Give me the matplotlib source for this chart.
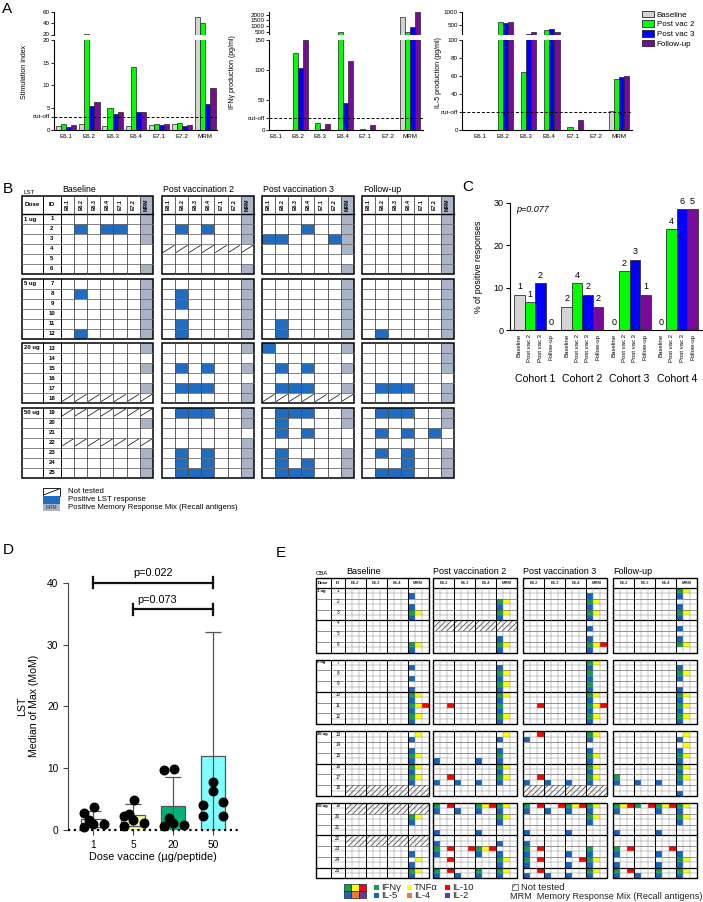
import numpy as np
import matplotlib
matplotlib.use("Agg")
import matplotlib.pyplot as plt
from matplotlib.patches import Rectangle, Patch

plt.rcParams['font.family'] = ['Liberation Sans', 'DejaVu Sans']
plt.rcParams['hatch.linewidth'] = 0.5

# ---------------------------------------------------------------- data
series = ["Baseline", "Post vac 2", "Post vac 3", "Follow-up"]
categories_A = ["E6.1", "E6.2", "E6.3", "E6.4", "E7.1", "E7.2", "MRM"]

si_baseline = [0.9, 1.33, 0.8, 0.96, 1.04, 1.26, 50.9]
si_postvac2 = [1.26, 21.0, 5.0, 13.9, 1.26, 1.48, 41.1]
si_postvac3 = [0.74, 5.4, 3.6, 4.1, 1.04, 0.9, 5.8]
si_followup = [1.04, 6.15, 3.9, 4.1, 1.26, 1.04, 9.26]
si_cutoff = 3.0

ifn_baseline = [0, 0, 0, 0, 0, 0, 1770]
ifn_postvac2 = [0, 129, 11, 460, 1, 0, 474]
ifn_postvac3 = [0, 103, 1.7, 45.5, 0, 0, 888]
ifn_followup = [0, 150, 10, 115.5, 7.8, 0, 2210]
ifn_cutoff = 20

il5_baseline = [0, 0, 0, 0, 0, 0, 20.7]
il5_postvac2 = [0, 599, 64, 271, 3, 0, 56.3]
il5_postvac3 = [0, 570, 120, 312, 0, 0, 58.9]
il5_followup = [0, 599, 202, 214, 11, 0, 59.6]
il5_cutoff = 20

# Panel B (LST)
lst_antigens = ["E6.1", "E6.2", "E6.3", "E6.4", "E7.1", "E7.2", "MRM"]
lst_dose_groups = ["1 ug", "5 ug", "20 ug", "50 ug"]
lst_group_sizes = [6, 6, 6, 7]
lst_titles = ["Baseline", "Post vaccination 2", "Post vaccination 3", "Follow-up"]

lst_baseline_pos = {2: ["E6.2", "E6.4", "E7.1"], 8: ["E6.2"], 12: ["E6.2"]}
lst_baseline_mrm = [1, 2, 3, 6, 7, 8, 9, 10, 11, 12, 13, 15, 17, 20, 23, 24, 25]
lst_baseline_nt = [18, 19, 22]

lst_postvac2_pos = {2: ["E6.2", "E6.4"], 8: ["E6.2"], 9: ["E6.2"], 11: ["E6.2"], 12: ["E6.2"],
                    15: ["E6.2", "E6.4"], 17: ["E6.2", "E6.3", "E6.4"], 19: ["E6.2", "E6.3", "E6.4"],
                    23: ["E6.2", "E6.4"], 24: ["E6.2", "E6.4"], 25: ["E6.2", "E6.3", "E6.4"]}
lst_postvac2_mrm = [1, 2, 3, 6, 7, 8, 9, 10, 11, 12, 13, 15, 17, 18, 19, 20, 22, 23, 24, 25]
lst_postvac2_nt = [4]

lst_postvac3_pos = {2: ["E6.4"], 3: ["E6.1", "E6.2", "E7.2"], 11: ["E6.2"], 12: ["E6.2"],
                    13: ["E6.1"], 15: ["E6.2", "E6.4"], 17: ["E6.2", "E6.3", "E6.4"],
                    19: ["E6.2", "E6.3", "E6.4"], 20: ["E6.2"], 21: ["E6.2", "E6.4"], 23: ["E6.2"],
                    24: ["E6.2", "E6.4"], 25: ["E6.2", "E6.3", "E6.4"]}
lst_postvac3_mrm = [1, 2, 3, 4, 6, 7, 8, 9, 10, 11, 12, 13, 15, 17, 19, 20, 23, 24, 25]
lst_postvac3_nt = [18]

lst_followup_pos = {12: ["E6.2"], 17: ["E6.2", "E6.3", "E6.4"], 19: ["E6.2", "E6.3", "E6.4"],
                    21: ["E6.2", "E6.4", "E7.2"], 23: ["E6.2", "E6.4"], 24: ["E6.4"],
                    25: ["E6.2", "E6.3", "E6.4"]}
lst_followup_mrm = [1, 2, 3, 4, 5, 6, 7, 8, 9, 10, 11, 12, 13, 14, 15, 17, 18, 19, 20, 23, 24, 25]
lst_followup_nt = []

# Panel C
c_cohorts = ["Cohort 1", "Cohort 2", "Cohort 3", "Cohort 4"]
c_pct_baseline = [8.3, 5.5, 0, 0]
c_pct_postvac2 = [6.5, 11.0, 13.8, 23.8]
c_pct_postvac3 = [11.0, 8.3, 16.6, 28.5]
c_pct_followup = [0, 5.5, 8.3, 28.5]
c_n_baseline = [1, 2, 0, 0]
c_n_postvac2 = [1, 4, 2, 4]
c_n_postvac3 = [2, 2, 3, 6]
c_n_followup = [0, 2, 1, 5]
c_pvalue = "p=0.077"

# Panel D
d_doses = ["1", "5", "20", "50"]
d_median = [1.8, 2.4, 3.95, 11.9]
d_sd = [1.35, 1.75, 4.55, 20.1]
d_points_1 = [2.7, 3.8, 1.6, 0.5, 1.0, 0.9]
d_points_5 = [2.2, 4.9, 2.6, 0.6, 1.6, 1.1]
d_points_20 = [9.7, 9.8, 1.9, 0.6, 1.1, 0.8]
d_points_50 = [7.8, 6.3, 4.0, 2.2, 4.6, 2.3]
d_p_tests = [("p=0.022", 0, 3), ("p=0.073", 1, 3)]

# Panel E (CBA): per patient, cells for E6.2 E6.3 E6.4 MRM
# g=IFNg y=TNFa r=IL-10 (top) ; b=IL-5 o=IL-4 p=IL-2 (bottom)
cba_groups = ["E6.2", "E6.3", "E6.4", "MRM"]
cba_baseline = {1: "- - - b", 2: "- - - b", 3: "- - - gyb", 6: "- - - gyb",
                7: "- - - b", 8: "- - - b", 9: "- - - b", 10: "- - - gyb", 11: "- - - gyrb", 12: "- - - gyb",
                13: "- - - yb", 14: "- - - b", 15: "- - - gyb", 16: "- - - gyb", 17: "- - - gyb",
                20: "- - - gyb", 23: "- - - b", 24: "- - - yb", 25: "- - - gyb"}
cba_baseline_nt = [18, 19, 22]
cba_postvac2 = {2: "- - - gyb", 3: "- - - gyb", 5: "- - - b", 6: "- - - gyb",
                7: "- - - b", 8: "- - - gyb", 9: "- - - gyb", 10: "- - - gyb", 11: "r - - gb", 12: "- - - gyb",
                13: "- - - yb", 14: "- - - b", 15: "b - b gb", 16: "- - - gyb", 17: "rb b b gyb",
                19: "grb b gyrb gyb", 20: "- - - gyb", 21: "b - b -", 22: "b - - b",
                23: "grb r gyrb b", 24: "r - - gyb", 25: "grb b gb gyb"}
cba_postvac2_nt = [4]
cba_postvac3 = {1: "- - - b", 2: "- - - gyb", 3: "- - - gyb", 4: "- - - b", 5: "- - - b", 6: "- - - gyrb",
                7: "- - - gyb", 8: "- - - gb", 9: "- - - gb", 10: "- - - gyb", 11: "r - - gyrb", 12: "- - - gyb",
                13: "rb - - gyb", 14: "- - - b", 15: "- - - gyb", 16: "- - - gyb", 17: "rb b b gyb",
                19: "grb rb gyrb gyb", 20: "- - - gyb", 21: "b - b -", 22: "b - - -",
                23: "grb - b gb", 24: "grb - rb gyb", 25: "rb b b gyb"}
cba_postvac3_nt = [18]
cba_followup = {1: "- - - gyb", 2: "- - - b", 3: "- - - gyb", 4: "- - - b", 5: "- - - b", 6: "- - - gy",
                7: "- - - b", 8: "- - - gyb", 9: "- - - b", 10: "- - - gyb", 11: "- - - gyb", 12: "- - - gyb",
                13: "- - - yb", 14: "- - - yb", 15: "- - - gyb", 16: "- - - gyb", 17: "gb b b gyb", 18: "- - - b",
                19: "gyrb gr gyrb gyb", 20: "- - - gyb", 21: "b - b -", 23: "grb - rb b",
                24: "b - b gyb", 25: "grb b gb gyb"}
cba_followup_nt = []
cyto_names = {"g": "IFNγ", "y": "TNFα", "r": "IL-10", "b": "IL-5", "o": "IL-4", "p": "IL-2"}

# ---------------------------------------------------------------- style
W, H = 703, 902
series_colors = ["#d4d4d4", "#00ff00", "#0000ff", "#7a0a99"]
blue_lst = "#1f6cc0"
mrm_gray = "#a9b4c7"
cyto_colors = {"g": "#10a050", "y": "#ffff00", "r": "#ff0000", "b": "#1565c0", "o": "#f07830", "p": "#7030a0"}
cyto_pos = {"g": (0, 0), "y": (0, 1), "r": (0, 2), "b": (1, 0), "o": (1, 1), "p": (1, 2)}

fig = plt.figure(figsize=(W / 100, H / 100), dpi=100)


def fr(x0, y0, x1, y1):
    return [x0 / W, 1 - y1 / H, (x1 - x0) / W, (y1 - y0) / H]


ov = fig.add_axes([0, 0, 1, 1])
ov.set_xlim(0, W)
ov.set_ylim(H, 0)
ov.axis('off')

for lab, (x, y) in {"A": (2, 2), "B": (3, 182), "C": (462, 180), "D": (3, 543), "E": (276, 546)}.items():
    ov.text(x, y, lab, fontsize=11, ha='left', va='top')

# ---------------------------------------------------------------- Panel A
bw = 0.22


def panel_a(xr, data, low_lim, up_lim, low_ticks, low_labels, up_ticks, cutoff, xlim, ylabel, ylabel_x):
    x0, x1 = xr
    axu = fig.add_axes(fr(x0, 12, x1, 34.5))
    axl = fig.add_axes(fr(x0, 40, x1, 130))
    xs = np.arange(len(categories_A))
    for ax in (axu, axl):
        for j, vals in enumerate(data):
            ax.bar(xs + (j - 1.5) * bw, vals, bw, color=series_colors[j], edgecolor='#222222',
                   linewidth=0.5, zorder=2)
        ax.set_xlim(*xlim)
        for s in ('top', 'right'):
            ax.spines[s].set_visible(False)
        ax.spines['left'].set_linewidth(0.8)
        ax.spines['bottom'].set_linewidth(0.8)
        ax.tick_params(labelsize=4.5, length=2, width=0.6, pad=1)
        ax.patch.set_alpha(0)
    axu.set_ylim(*up_lim)
    axu.spines['bottom'].set_visible(False)
    axu.set_xticks([])
    axu.set_yticks(up_ticks)
    axl.set_ylim(*low_lim)
    axl.set_yticks(low_ticks)
    axl.set_yticklabels(low_labels)
    axl.set_xticks(xs)
    axl.set_xticklabels(categories_A)
    axl.tick_params(axis='x', length=0, pad=3)
    axl.axhline(cutoff, ls=(0, (3, 2)), color='k', lw=0.7, zorder=3)
    fig.text(ylabel_x / W, 1 - 72 / H, ylabel, rotation=90, fontsize=5, ha='center', va='center')


panel_a((54, 217), [si_baseline, si_postvac2, si_postvac3, si_followup], (0, 20), (20, 60),
        [0, si_cutoff, 5, 10, 15, 20], ['0', 'cut-off', '5', '10', '15', '20'], [20, 40, 60],
        si_cutoff, (-0.52, 6.5), "Stimulation index", 25)
panel_a((269, 423), [ifn_baseline, ifn_postvac2, ifn_postvac3, ifn_followup], (0, 150), (250, 2240),
        [0, ifn_cutoff, 50, 100, 150], ['0', 'cut-off', '50', '100', '150'], [500, 1000, 1500, 2000],
        ifn_cutoff, (-0.29, 6.58), "IFNγ production (pg/ml)", 233)
panel_a((462, 632), [il5_baseline, il5_postvac2, il5_postvac3, il5_followup], (0, 100), (100, 1020),
        [0, il5_cutoff, 40, 60, 80, 100], ['0', 'cut-off', '40', '60', '80', '100'], [500, 1000],
        il5_cutoff, (-0.75, 6.55), "IL-5 production (pg/ml)", 438)

handles = [Patch(facecolor=c, edgecolor='#222222', linewidth=0.6) for c in series_colors]
fig.legend(handles, series, loc='upper left', bbox_to_anchor=(640 / W, 1 - 9 / H), frameon=False,
           fontsize=5.8, handlelength=1.5, handleheight=0.9, labelspacing=0.2, handletextpad=0.35,
           borderpad=0.2, borderaxespad=0)

# ---------------------------------------------------------------- Panel B
b_header_top, b_header_h, b_rh = 196, 18, 10
b_group_tops = [214, 278.5, 343, 407.5]
b_x_dose, b_x_id = 22, 43
b_cw = 13.1
b_table_x = [61, 162, 262, 362]


def draw_lst(x_data, title, pos, mrm, nt, with_labels):
    ncol = len(lst_antigens)
    x_end = x_data + ncol * b_cw
    x_left = b_x_dose if with_labels else x_data
    ov.text(x_data + 1, b_header_top - 1.5, title, fontsize=6.3, ha='left', va='bottom')
    for j, ag in enumerate(lst_antigens):
        if ag == 'MRM':
            ov.add_patch(Rectangle((x_data + j * b_cw, b_header_top), b_cw, b_header_h, fc=mrm_gray, ec='none'))
        ov.text(x_data + (j + 0.5) * b_cw, b_header_top + b_header_h / 2, ag, rotation=90, fontsize=3.8,
                fontweight='bold', ha='center', va='center')
    if with_labels:
        ov.text((b_x_dose + b_x_id) / 2, b_header_top + b_header_h / 2, 'Dose', fontsize=4.5,
                fontweight='bold', ha='center', va='center')
        ov.text((b_x_id + x_data) / 2, b_header_top + b_header_h / 2, 'ID', fontsize=4.5,
                fontweight='bold', ha='center', va='center')
    pid = 0
    for gi, n in enumerate(lst_group_sizes):
        top = b_group_tops[gi]
        bottom = top + n * b_rh
        for ri in range(n):
            pid += 1
            y = top + ri * b_rh
            for j, ag in enumerate(lst_antigens):
                x = x_data + j * b_cw
                if pid in nt:
                    ov.plot([x + 1, x + b_cw - 1], [y + b_rh - 1.5, y + 1.5], color='k', lw=0.5)
                elif ag == 'MRM' and pid in mrm:
                    ov.add_patch(Rectangle((x, y), b_cw, b_rh, fc=mrm_gray, ec='none'))
                elif ag in pos.get(pid, []):
                    ov.add_patch(Rectangle((x, y), b_cw, b_rh, fc=blue_lst, ec='none'))
            if with_labels:
                ov.text((b_x_id + x_data) / 2, y + b_rh / 2, str(pid), fontsize=4.3, fontweight='bold',
                        ha='center', va='center')
                if ri == 0:
                    ov.text(b_x_dose + 2, y + b_rh / 2, lst_dose_groups[gi], fontsize=4.3, fontweight='bold',
                            ha='left', va='center')
        box_top = b_header_top if gi == 0 else top
        for k in range(1, n):
            ov.plot([x_left, x_end], [top + k * b_rh] * 2, color='#6f6f6f', lw=0.6)
        if gi == 0:
            ov.plot([x_left, x_end], [top, top], color='k', lw=1.0)
        for j in range(1, ncol):
            ov.plot([x_data + j * b_cw] * 2, [box_top, bottom], color='#4a4a4a', lw=0.6)
        if with_labels:
            for xv in (b_x_id, x_data):
                ov.plot([xv, xv], [box_top, bottom], color='k', lw=0.7)
        ov.add_patch(Rectangle((x_left, box_top), x_end - x_left, bottom - box_top, fc='none', ec='k', lw=1.1))


ov.text(b_x_dose + 1, b_header_top - 1.5, 'LST', fontsize=4.5, ha='left', va='bottom')
lst_sets = [(lst_baseline_pos, lst_baseline_mrm, lst_baseline_nt),
            (lst_postvac2_pos, lst_postvac2_mrm, lst_postvac2_nt),
            (lst_postvac3_pos, lst_postvac3_mrm, lst_postvac3_nt),
            (lst_followup_pos, lst_followup_mrm, lst_followup_nt)]
for t, (pos, mrm, nt) in enumerate(lst_sets):
    draw_lst(b_table_x[t], lst_titles[t], pos, mrm, nt, t == 0)

# legend B
lx, lw_, ly, lh = 43, 17, 488, 7.8
ov.add_patch(Rectangle((lx, ly), lw_, lh, fc='white', ec='k', lw=0.6))
ov.plot([lx + 1, lx + lw_ - 1], [ly + lh - 1, ly + 1], color='k', lw=0.6)
ov.add_patch(Rectangle((lx, ly + lh), lw_, lh, fc=blue_lst, ec='none'))
ov.add_patch(Rectangle((lx, ly + 2 * lh), lw_, lh, fc=mrm_gray, ec='none'))
ov.text(lx + lw_ / 2, ly + 2.5 * lh, 'MRM', fontsize=3.5, ha='center', va='center', color='#333333')
for k, t in enumerate(["Not tested", "Positive LST response", "Positive Memory Response Mix (Recall antigens)"]):
    ov.text(68, ly + (k + 0.5) * lh, t, fontsize=5.6, ha='left', va='center')

# ---------------------------------------------------------------- Panel C
axc = fig.add_axes(fr(510, 202.7, 702, 330))
c_all = [c_pct_baseline, c_pct_postvac2, c_pct_postvac3, c_pct_followup]
c_ns = [c_n_baseline, c_n_postvac2, c_n_postvac3, c_n_followup]
xt, xl = [], []
for g in range(len(c_cohorts)):
    for j in range(4):
        xpos = g * 4.5 + j + 0.5
        v = c_all[j][g]
        axc.bar(xpos, v, 1.0, color=series_colors[j], edgecolor='#333333', linewidth=0.6, zorder=2)
        axc.text(xpos, v + 0.8, str(c_ns[j][g]), fontsize=6.5, ha='center', va='bottom')
        xt.append(xpos)
        xl.append(series[j])
    axc.text(g * 4.5 + 2.0, -0.385, c_cohorts[g], transform=axc.get_xaxis_transform(), fontsize=7.6,
             ha='center', va='center')
axc.set_xlim(-0.4, 17.9)
axc.set_ylim(0, 30)
axc.set_yticks([0, 10, 20, 30])
axc.set_xticks(xt)
axc.set_xticklabels(xl, rotation=90, fontsize=4.3)
axc.tick_params(axis='x', length=0, pad=3)
axc.tick_params(axis='y', labelsize=6.5, length=3, width=0.8, pad=1.5)
for s in ('top', 'right'):
    axc.spines[s].set_visible(False)
axc.set_ylabel("% of positive responses", fontsize=6.3)
axc.yaxis.set_label_coords(-0.14, 0.5)
axc.text(0.03, 0.98, c_pvalue, transform=axc.transAxes, fontsize=6.5, style='italic', ha='left', va='top')

# ---------------------------------------------------------------- Panel D
axd = fig.add_axes(fr(68, 582.7, 238, 830))
xs = np.arange(len(d_doses))
d_colors = ["#ffffff", "#ffff99", "#00b377", "#80ffff"]
axd.bar(xs, d_median, 0.62, color=d_colors, edgecolor='#555555', linewidth=0.9, zorder=2)
axd.errorbar(xs, d_median, yerr=d_sd, fmt='none', ecolor='#555555', elinewidth=0.9, capsize=6,
             capthick=0.9, zorder=2)
d_offsets = [-0.22, 0.02, -0.1, -0.22, 0.0, 0.27]
for i, pts in enumerate([d_points_1, d_points_5, d_points_20, d_points_50]):
    offs = d_offsets if i < 3 else [0.0, 0.0, -0.25, -0.25, 0.25, 0.25]
    axd.scatter(xs[i] + np.array(offs), pts, s=38, color='k', zorder=4, clip_on=False)
axd.set_ylim(0, 40)
axd.set_xlim(-0.625, 3.625)
axd.set_yticks([0, 10, 20, 30, 40])
axd.set_xticks(xs)
axd.set_xticklabels(d_doses)
axd.axhline(0, ls=(0, (1, 1.6)), color='k', lw=1.6, zorder=5, clip_on=False)
axd.spines['bottom'].set_visible(False)
for s in ('top', 'right'):
    axd.spines[s].set_visible(False)
axd.spines['left'].set_color('#444444')
axd.tick_params(labelsize=7.3, length=3.5, width=0.8, color='#444444')
axd.set_xlabel("Dose vaccine (µg/peptide)", fontsize=7.8, labelpad=2)
axd.set_ylabel("LST\nMedian of Max (MoM)", fontsize=7.6, labelpad=6)
ys = [40.0, 35.7]
for (lab, a, b), yv in zip(d_p_tests, ys):
    axd.plot([a, b], [yv, yv], color='#111111', lw=1.6, clip_on=False, zorder=5)
    for e in (a, b):
        axd.plot([e, e], [yv - 0.9, yv + 0.9], color='#111111', lw=1.6, clip_on=False, zorder=5)
    axd.text((a + b) / 2 - (0.4 if a > 0 else 0), yv + 0.7, lab, fontsize=7.8, ha='center', va='bottom')

# ---------------------------------------------------------------- Panel E
e_header_top, e_header_h = 578, 10
e_ph = 10.75
e_group_tops = [588, 659.7, 731.4, 803.1]
e_x_dose, e_x_id = 316, 331
e_table_x = [344, 433, 523, 613]
e_cw = 7.0
e_titles = ["Baseline", "Post vaccination 2", "Post vaccination 3", "Follow-up"]


def draw_cba(x_data, title, data, nt, with_labels):
    nsub = 3
    ncol = len(cba_groups) * nsub
    x_end = x_data + ncol * e_cw
    x_left = e_x_dose if with_labels else x_data
    ov.text(x_data + (2 if with_labels else 0), e_header_top - 2, title, fontsize=6.5, ha='left', va='bottom')
    for k, gname in enumerate(cba_groups):
        ov.text(x_data + (k + 0.5) * nsub * e_cw, e_header_top + e_header_h / 2, gname, fontsize=3,
                fontweight='bold', ha='center', va='center', color='#333333')
    if with_labels:
        ov.text((e_x_dose + e_x_id) / 2, e_header_top + e_header_h / 2, 'Dose', fontsize=3.2,
                fontweight='bold', ha='center', va='center')
        ov.text((e_x_id + x_data) / 2, e_header_top + e_header_h / 2, 'ID', fontsize=3.2,
                fontweight='bold', ha='center', va='center')
    pid = 0
    for gi, n in enumerate(lst_group_sizes):
        top = e_group_tops[gi]
        bottom = top + n * e_ph
        for ri in range(n):
            pid += 1
            y = top + ri * e_ph
            if pid in nt:
                for k in range(len(cba_groups)):
                    ov.add_patch(Rectangle((x_data + k * nsub * e_cw, y), nsub * e_cw, e_ph, fc='white',
                                           ec='#333333', lw=0, hatch='//////'))
            cells = data.get(pid)
            if cells:
                for k, cell in enumerate(cells.split()):
                    for ch in cell:
                        if ch in cyto_pos:
                            r, c = cyto_pos[ch]
                            ov.add_patch(Rectangle((x_data + (k * nsub + c) * e_cw, y + r * e_ph / 2),
                                                   e_cw, e_ph / 2, fc=cyto_colors[ch], ec='none'))
            if with_labels:
                ov.text((e_x_id + x_data) / 2, y + e_ph / 4, str(pid), fontsize=3.3, ha='center', va='center')
                if ri == 0:
                    ov.text(e_x_dose + 1, y + e_ph / 4, lst_dose_groups[gi], fontsize=3.0,
                            fontweight='bold', ha='left', va='center')
        box_top = e_header_top if gi == 0 else top
        for k in range(1, 2 * n):
            yy = top + k * e_ph / 2
            if k % 6 == 0:
                ov.plot([x_left, x_end], [yy, yy], color='k', lw=0.9)
            elif k % 2 == 0:
                ov.plot([x_left, x_end], [yy, yy], color='#555555', lw=0.45)
            else:
                ov.plot([x_left if not with_labels else e_x_id, x_end], [yy, yy], color='#8c8c8c', lw=0.35)
        if gi == 0:
            ov.plot([x_left, x_end], [top, top], color='k', lw=0.9)
        for j in range(1, ncol):
            if j % nsub == 0:
                ov.plot([x_data + j * e_cw] * 2, [box_top, bottom], color='k', lw=0.75)
            else:
                ov.plot([x_data + j * e_cw] * 2, [top, bottom], color='#8c8c8c', lw=0.35)
        if with_labels:
            for xv in (e_x_id, x_data):
                ov.plot([xv, xv], [box_top, bottom], color='k', lw=0.7)
        ov.add_patch(Rectangle((x_left, box_top), x_end - x_left, bottom - box_top, fc='none', ec='k', lw=1.0))


ov.text(e_x_dose, e_header_top - 2, 'CBA', fontsize=4.3, ha='left', va='bottom')
cba_sets = [(cba_baseline, cba_baseline_nt), (cba_postvac2, cba_postvac2_nt),
            (cba_postvac3, cba_postvac3_nt), (cba_followup, cba_followup_nt)]
for t, (dat, nt) in enumerate(cba_sets):
    draw_cba(e_table_x[t] + (0.5 if t == 0 else 0), e_titles[t], dat, nt, t == 0)

# legend E
kx, ky, kw, kh = 344, 884, 7.3, 7.0
for ch, (r, c) in cyto_pos.items():
    ov.add_patch(Rectangle((kx + c * kw, ky + r * kh), kw, kh, fc=cyto_colors[ch], ec='#222222', lw=0.5))
leg_x = {"g": 374, "b": 374, "y": 407, "o": 407, "r": 445, "p": 445}
for ch, (r, c) in cyto_pos.items():
    x = leg_x[ch]
    y = ky + 0.5 + r * 8
    ov.add_patch(Rectangle((x, y), 5, 5.5, fc=cyto_colors[ch], ec='none'))
    ov.text(x + 7, y + 2.8, cyto_names[ch], fontsize=6.8, ha='left', va='center', color='#222222')
ov.add_patch(Rectangle((512, 884), 5.5, 5.5, fc='white', ec='#444444', lw=0.5, hatch='//'))
ov.text(521, 887, "Not tested", fontsize=6.8, ha='left', va='center', color='#222222')
ov.text(510, 896.5, "MRM  Memory Response Mix (Recall antigens)", fontsize=6.6, ha='left', va='center',
        color='#222222')

fig.savefig("out.png", dpi=100)
